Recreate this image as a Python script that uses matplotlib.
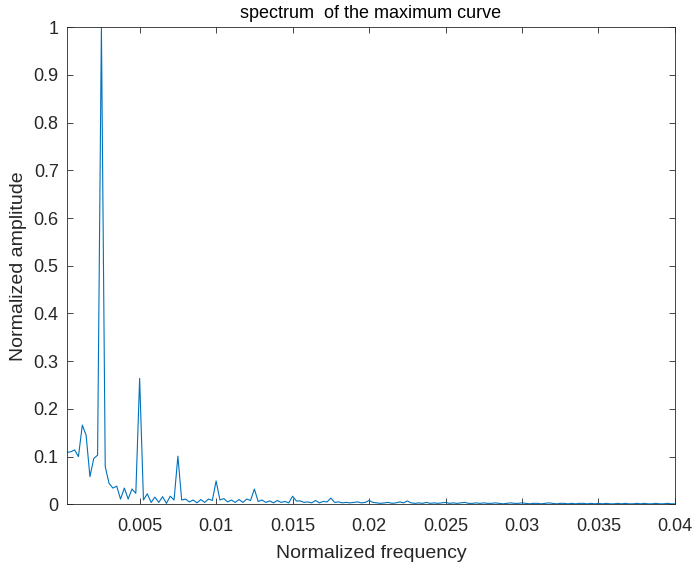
import numpy as np
import matplotlib
matplotlib.use("Agg")
import matplotlib.pyplot as plt

plt.rcParams['font.family'] = ['Liberation Sans', 'DejaVu Sans']

# frequency bins (step 1/4000) and normalized spectrum values
freq_step = 0.00025
amplitude = [
    0.109, 0.110, 0.114, 0.100, 0.166, 0.145, 0.058, 0.096, 0.103, 1.000,
    0.079, 0.044, 0.034, 0.038, 0.011, 0.034, 0.011, 0.032, 0.023, 0.264,
    0.009, 0.022, 0.004, 0.015, 0.004, 0.016, 0.002, 0.017, 0.009, 0.101,
    0.009, 0.011, 0.005, 0.009, 0.003, 0.010, 0.004, 0.011, 0.008, 0.049,
    0.009, 0.012, 0.005, 0.009, 0.004, 0.010, 0.004, 0.011, 0.008, 0.032,
    0.006, 0.009, 0.004, 0.007, 0.003, 0.008, 0.004, 0.006, 0.003, 0.017,
    0.007, 0.007, 0.004, 0.005, 0.003, 0.008, 0.003, 0.006, 0.005, 0.013,
    0.004, 0.005, 0.003, 0.004, 0.003, 0.004, 0.005, 0.003, 0.004, 0.008,
    0.004, 0.003, 0.002, 0.003, 0.004, 0.002, 0.003, 0.005, 0.003, 0.007,
    0.003, 0.002, 0.003, 0.002, 0.004, 0.002, 0.003, 0.002, 0.003, 0.004,
    0.002, 0.003, 0.002, 0.003, 0.004, 0.002, 0.002, 0.003, 0.002, 0.003,
    0.002, 0.002, 0.003, 0.002, 0.001, 0.002, 0.003, 0.002, 0.002, 0.003,
    0.002, 0.001, 0.002, 0.002, 0.001, 0.002, 0.003, 0.002, 0.001, 0.002,
    0.002, 0.001, 0.002, 0.001, 0.002, 0.002, 0.001, 0.002, 0.001, 0.002,
    0.001, 0.002, 0.001, 0.001, 0.002, 0.001, 0.002, 0.001, 0.001, 0.002,
    0.001, 0.002, 0.001, 0.001, 0.002, 0.001, 0.001, 0.002, 0.001, 0.001,
]
freq = freq_step * np.arange(1, len(amplitude) + 1)

xticks = [0.005, 0.01, 0.015, 0.02, 0.025, 0.03, 0.035, 0.04]
xtick_labels = ["0.005", "0.01", "0.015", "0.02", "0.025", "0.03", "0.035", "0.04"]
yticks = [0, 0.1, 0.2, 0.3, 0.4, 0.5, 0.6, 0.7, 0.8, 0.9, 1]
ytick_labels = ["0", "0.1", "0.2", "0.3", "0.4", "0.5", "0.6", "0.7", "0.8", "0.9", "1"]

fig = plt.figure(figsize=(6.92, 5.66), dpi=100)
ax = fig.add_axes([0.0968, 0.109, 0.9754 - 0.0968, 0.9518 - 0.109])

ax.plot(freq, amplitude, color="#0072BD", linewidth=0.8)

ax.set_xlim(freq[0], 0.04)
ax.set_ylim(0, 1)
ax.set_xticks(xticks)
ax.set_xticklabels(xtick_labels)
ax.set_yticks(yticks)
ax.set_yticklabels(ytick_labels)

ax.tick_params(direction="in", top=True, right=True, length=4, width=0.6,
               labelsize=13, colors="#262626")
ax.tick_params(axis="x", pad=10)
ax.tick_params(axis="y", pad=6)
for s in ax.spines.values():
    s.set_linewidth(0.6)
    s.set_color("#262626")

ax.set_xlabel("Normalized frequency", fontsize=14, color="#262626", labelpad=7)
ax.set_ylabel("Normalized amplitude", fontsize=14, color="#262626", labelpad=5)
ax.set_title("spectrum  of the maximum curve", fontsize=13, color="#000000", pad=7)

fig.savefig("out.png", dpi=100)
